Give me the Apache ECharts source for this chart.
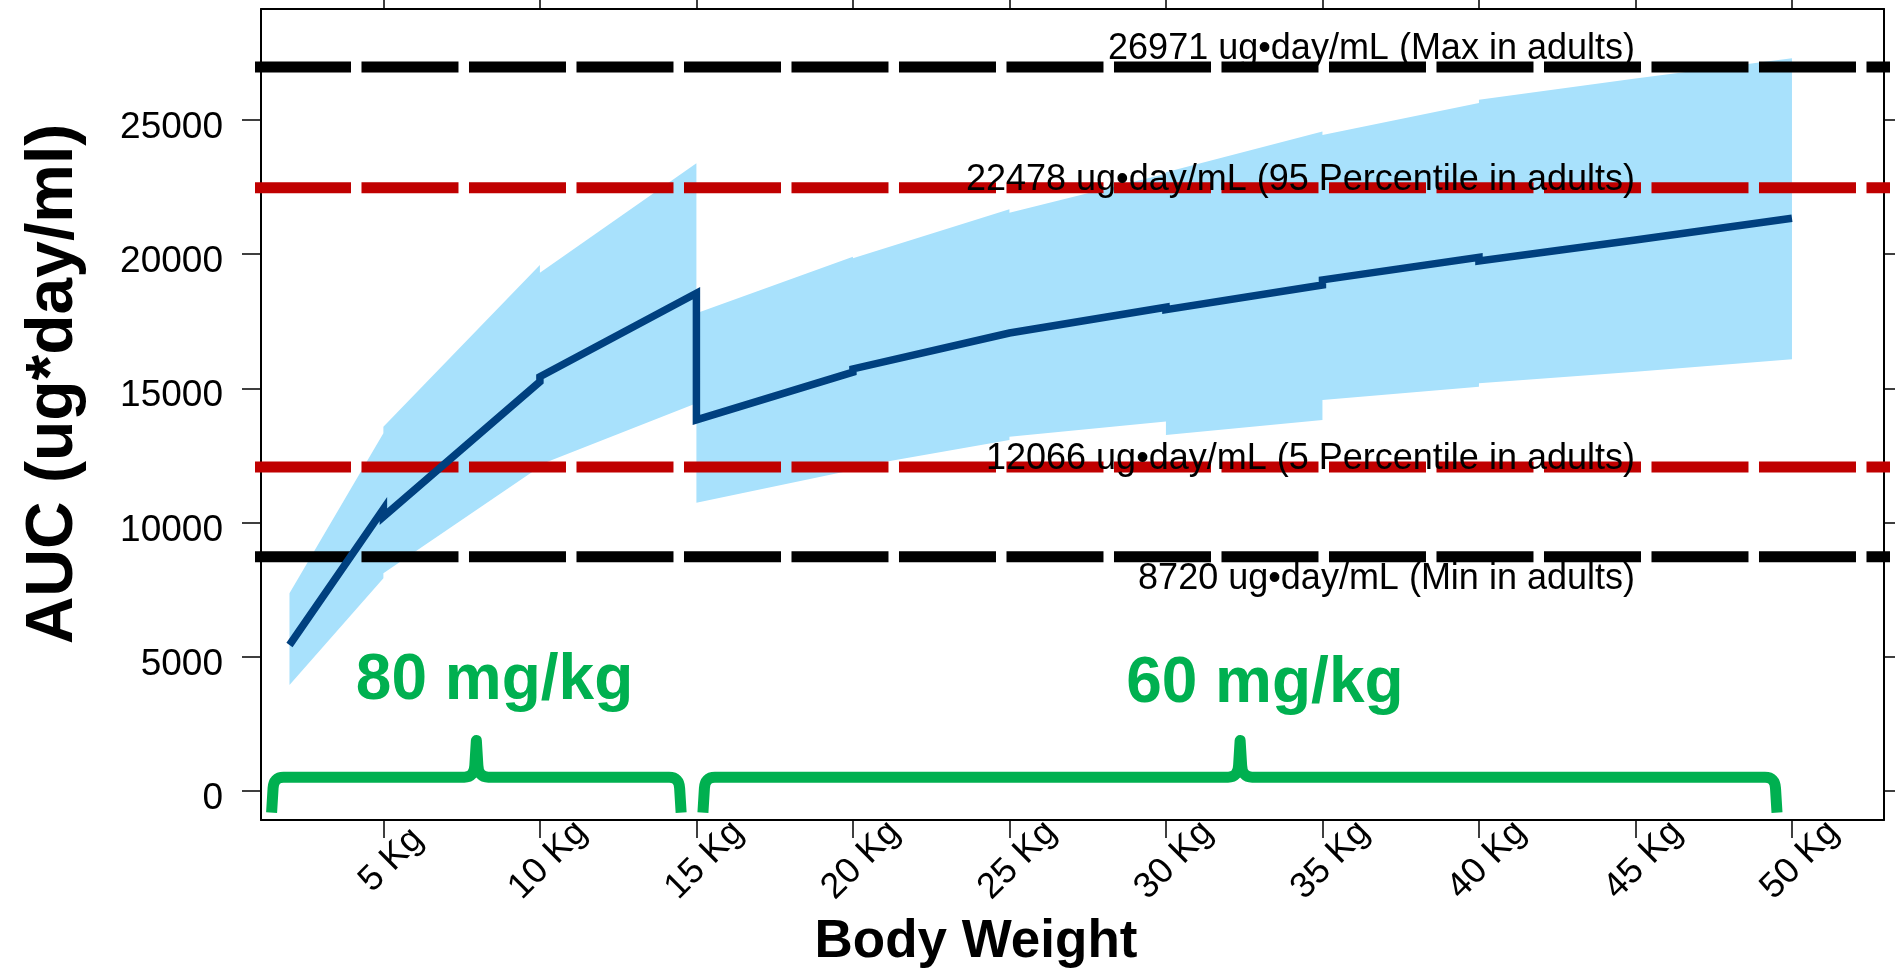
<!DOCTYPE html>
<html>
<head>
<meta charset="utf-8">
<script src="https://cdn.jsdelivr.net/npm/echarts@6/dist/echarts.min.js"></script>
<style>
html,body{margin:0;padding:0;background:#fff;}
#chart{width:1895px;height:973px;}
</style>
</head>
<body>
<div id="chart"></div>
<script>
// ---------------- DATA ----------------
const xTicks = [5, 10, 15, 20, 25, 30, 35, 40, 45, 50];
const xTickLabels = ['5 Kg', '10 Kg', '15 Kg', '20 Kg', '25 Kg', '30 Kg', '35 Kg', '40 Kg', '45 Kg', '50 Kg'];
const yTicks = [0, 5000, 10000, 15000, 20000, 25000];
const yTickLabels = ['0', '5000', '10000', '15000', '20000', '25000'];

// Body weight (kg) break points; repeated weights mark a new dosing band segment
const ribbonX     = [2, 5, 5, 10, 10, 15, 15, 20, 20, 25, 25, 30, 30, 35, 35, 40, 40, 45, 50];
const ribbonUpper = [7358, 13322, 13570, 19596, 19310, 23385, 17794, 19905, 19844, 21670, 21545, 23000, 23050, 24570, 24440, 25630, 25750, 26550, 27300];
const ribbonLower = [3940, 7917, 8103, 12077, 12150, 14440, 10735, 11950, 12050, 13072, 13196, 13757, 13259, 13820, 14563, 15059, 15184, 15620, 16080];

const medianX = [2, 5, 5, 10, 10, 15, 15, 20, 20, 25, 25, 30, 30, 35, 35, 40, 40, 45, 50];
const medianY = [5431, 10500, 10213, 15245, 15432, 18540, 13820, 15600, 15720, 17060, 17000, 18020, 17930, 18850, 19040, 19880, 19744, 20527, 21335];

const refValues = [26971, 22478, 12066, 8720];
const refLabels = [
  '26971 ug\u2022day/mL (Max in adults)',
  '22478 ug\u2022day/mL (95 Percentile in adults)',
  '12066 ug\u2022day/mL (5 Percentile in adults)',
  '8720 ug\u2022day/mL (Min in adults)'
];
const refLineExtent = [0.866, 53.16];
const refLabelX = 45;

const bracketStart = [1.46, 15.24];
const bracketMid   = [7.97, 32.37];
const bracketEnd   = [14.48, 49.49];
const bracketBarY = 503;
const bracketBottomY = -820;
const bracketPeakY = 1871;

const doseLabels = ['80 mg/kg', '60 mg/kg'];
const doseLabelX = [8.55, 33.16];
const doseLabelY = [4060, 3960];

// ---------------- STYLE ----------------
const FONT = '"Liberation Sans", Arial, Helvetica, sans-serif';
const RIBBON_COLOR = '#A8E1FC';
const MEDIAN_COLOR = '#00407F';
const GREEN = '#00B050';
const refColors = ['#000000', '#C00000', '#C00000', '#000000'];
const refLabelDy = [-18.5, -7.5, -8, 22.5];
const X_MIN = 1.09, X_MAX = 52.94;
const Y_MIN = -1092, Y_MAX = 29137;

const chart = echarts.init(document.getElementById('chart'), null, {renderer: 'canvas'});

const axisLineStyle = {show: true, onZero: false, lineStyle: {color: '#000', width: 2}};
const tickStyle = {color: '#000', width: 1.5};

const series = [];

// Ribbon (5th-95th percentile band)
series.push({
  type: 'custom',
  z: 1,
  silent: true,
  data: [[ribbonX[0], ribbonLower[0]]],
  encode: {x: 0, y: 1},
  renderItem: function (params, api) {
    const pts = [];
    for (let i = 0; i < ribbonX.length; i++) pts.push(api.coord([ribbonX[i], ribbonUpper[i]]));
    for (let i = ribbonX.length - 1; i >= 0; i--) pts.push(api.coord([ribbonX[i], ribbonLower[i]]));
    return {type: 'polygon', shape: {points: pts}, style: {fill: RIBBON_COLOR, stroke: null}};
  }
});

// Reference lines
refValues.forEach(function (v, i) {
  series.push({
    type: 'line',
    z: 2,
    silent: true,
    clip: false,
    showSymbol: false,
    symbol: 'none',
    data: [[refLineExtent[0], v], [refLineExtent[1], v]],
    lineStyle: {color: refColors[i], width: 11, type: [97, 10.5], cap: 'butt', opacity: 1}
  });
});

// Median line
series.push({
  type: 'line',
  z: 4,
  silent: true,
  showSymbol: false,
  symbol: 'none',
  data: medianX.map(function (x, i) { return [x, medianY[i]]; }),
  lineStyle: {color: MEDIAN_COLOR, width: 7.5, join: 'miter', cap: 'butt', opacity: 1}
});

// Dose brackets
series.push({
  type: 'custom',
  z: 4,
  silent: true,
  data: bracketMid.map(function (m) { return [m, bracketBarY]; }),
  encode: {x: 0, y: 1},
  renderItem: function (params, api) {
    const i = params.dataIndex;
    const pL = api.coord([bracketStart[i], bracketBottomY]);
    const pM = api.coord([bracketMid[i], bracketBarY]);
    const pR = api.coord([bracketEnd[i], bracketBottomY]);
    const yTop = api.coord([bracketMid[i], bracketPeakY])[1];
    const xL = pL[0], yB = pL[1], xm = pM[0], yBar = pM[1], xR = pR[0];
    const r = 11;
    const d = [
      'M', xL - 1, yB,
      'L', xL + 0.5, yBar + r,
      'Q', xL + 1, yBar, xL + r, yBar,
      'L', xm - 12, yBar,
      'Q', xm - 2, yBar, xm - 1.5, yBar - 12,
      'L', xm, yTop,
      'L', xm + 1.5, yBar - 12,
      'Q', xm + 2, yBar, xm + 12, yBar,
      'L', xR - r, yBar,
      'Q', xR - 1, yBar, xR - 0.5, yBar + r,
      'L', xR + 1, yB
    ].join(' ');
    return {
      type: 'path',
      shape: {pathData: d},
      style: {fill: 'none', stroke: GREEN, lineWidth: 11, lineJoin: 'round', lineCap: 'butt'}
    };
  }
});

// Reference labels
series.push({
  type: 'scatter',
  z: 10,
  silent: true,
  clip: false,
  symbol: 'circle',
  symbolSize: 1,
  itemStyle: {color: 'rgba(0,0,0,0)', opacity: 1},
  data: refValues.map(function (v, i) {
    return {value: [refLabelX, v], label: {offset: [0, refLabelDy[i]]}};
  }),
  label: {
    show: true,
    position: 'left',
    distance: 0,
    formatter: function (p) { return refLabels[p.dataIndex]; },
    fontSize: 36,
    fontFamily: FONT,
    color: '#000',
    opacity: 1
  }
});

// Dose labels
series.push({
  type: 'scatter',
  z: 10,
  silent: true,
  symbol: 'circle',
  symbolSize: 1,
  itemStyle: {color: 'rgba(0,0,0,0)', opacity: 1},
  data: doseLabelX.map(function (x, i) { return [x, doseLabelY[i]]; }),
  label: {
    show: true,
    position: 'inside',
    formatter: function (p) { return doseLabels[p.dataIndex]; },
    fontSize: 64,
    fontWeight: 'bold',
    fontFamily: FONT,
    color: GREEN,
    opacity: 1
  }
});

const option = {
  animation: false,
  backgroundColor: '#ffffff',
  grid: {left: 261, right: 11, top: 9, bottom: 153, containLabel: false},
  xAxis: [
    {
      type: 'value', position: 'bottom', min: X_MIN, max: X_MAX,
      axisLine: axisLineStyle,
      axisTick: {show: true, inside: false, length: 18, customValues: xTicks, lineStyle: tickStyle},
      axisLabel: {
        show: true, customValues: xTicks,
        formatter: function (v) { const k = xTicks.indexOf(v); return k >= 0 ? xTickLabels[k] : ''; },
        rotate: 45, align: 'center', verticalAlign: 'top', lineHeight: 23, margin: 32,
        fontSize: 36, fontFamily: FONT, color: '#000', hideOverlap: false
      },
      splitLine: {show: false}
    },
    {
      type: 'value', position: 'top', min: X_MIN, max: X_MAX,
      axisLine: axisLineStyle,
      axisTick: {show: true, inside: false, length: 18, customValues: xTicks, lineStyle: tickStyle},
      axisLabel: {show: false},
      splitLine: {show: false}
    }
  ],
  yAxis: [
    {
      type: 'value', position: 'left', min: Y_MIN, max: Y_MAX,
      axisLine: axisLineStyle,
      axisTick: {show: true, inside: false, length: 19, customValues: yTicks, lineStyle: tickStyle},
      axisLabel: {
        show: true, customValues: yTicks,
        formatter: function (v) { const k = yTicks.indexOf(v); return k >= 0 ? yTickLabels[k] : ''; },
        margin: 38, verticalAlign: 'top', lineHeight: 16,
        fontSize: 37, fontFamily: FONT, color: '#000'
      },
      splitLine: {show: false}
    },
    {
      type: 'value', position: 'right', min: Y_MIN, max: Y_MAX,
      axisLine: axisLineStyle,
      axisTick: {show: true, inside: false, length: 19, customValues: yTicks, lineStyle: tickStyle},
      axisLabel: {show: false},
      splitLine: {show: false}
    }
  ],
  graphic: [
    {
      type: 'text', x: 976, y: 942, silent: true, z: 100,
      style: {text: 'Body Weight', font: 'bold 53px ' + FONT, fill: '#000', align: 'center', verticalAlign: 'middle'}
    },
    {
      type: 'text', x: 54, y: 384, rotation: Math.PI / 2, silent: true, z: 100,
      style: {text: 'AUC (ug*day/ml)', font: 'bold 66px ' + FONT, fill: '#000', align: 'center', verticalAlign: 'middle'}
    }
  ],
  series: series
};

chart.setOption(option);
</script>
</body>
</html>
